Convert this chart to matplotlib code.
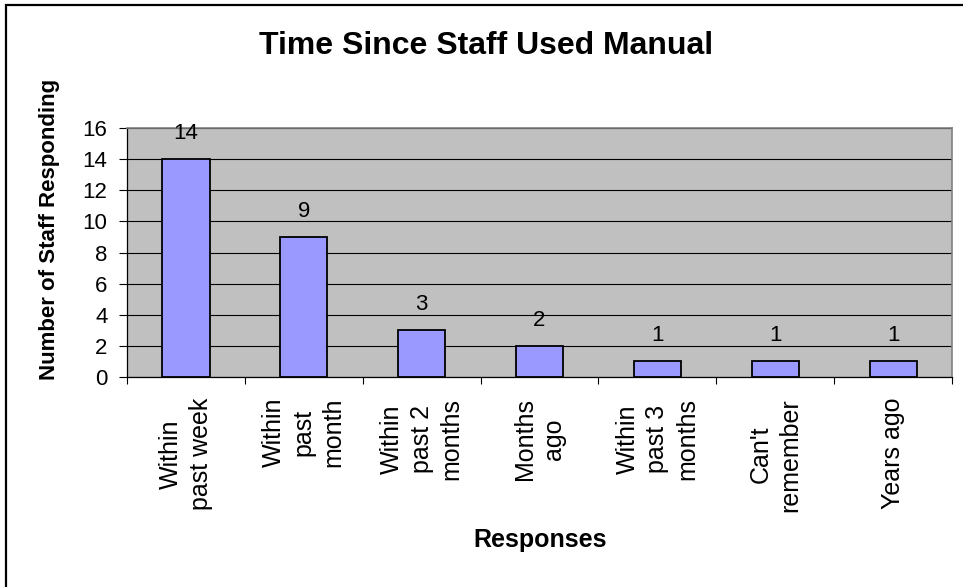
import matplotlib
matplotlib.use("Agg")
import matplotlib.pyplot as plt
import numpy as np
from matplotlib.patches import Rectangle
from matplotlib.ticker import FixedLocator

plt.rcParams["font.family"] = ["Liberation Sans", "DejaVu Sans"]

categories = [
    "Within\npast week",
    "Within\npast\nmonth",
    "Within\npast 2\nmonths",
    "Months\nago",
    "Within\npast 3\nmonths",
    "Can't\nremember",
    "Years ago",
]
counts = [14, 9, 3, 2, 1, 1, 1]
y_ticks = [0, 2, 4, 6, 8, 10, 12, 14, 16]

W, H = 963, 587
fig = plt.figure(figsize=(W / 100, H / 100), dpi=100)
ax = fig.add_axes([127 / W, 1 - 377 / H, (952 - 127) / W, (377 - 128) / H])

x = np.arange(len(categories))
bars = ax.bar(x, counts, width=0.4, color="#9999FF", edgecolor="black",
              linewidth=1.3, zorder=3)

for rect, v in zip(bars, counts):
    ax.annotate(str(v), (rect.get_x() + rect.get_width() / 2, rect.get_height()),
                xytext=(0, 11), textcoords="offset points",
                ha="center", va="bottom", fontsize=16, zorder=4)

ax.set_facecolor("#C0C0C0")
ax.set_xlim(-0.5, len(categories) - 0.5)
ax.set_ylim(0, 16)
ax.set_yticks(y_ticks)
ax.yaxis.grid(True, color="black", linewidth=0.8, zorder=1)
ax.set_axisbelow(True)

# category labels at centres, tick marks between categories
ax.set_xticks(x)
ax.set_xticklabels(categories, rotation=90, ha="center", va="top",
                   fontsize=18, linespacing=1.3)
ax.tick_params(axis="x", which="major", length=0, pad=15)
ax.xaxis.set_minor_locator(FixedLocator(np.arange(len(categories) + 1) - 0.5))
ax.tick_params(axis="x", which="minor", length=5, width=0.8, direction="out")
ax.tick_params(axis="y", length=6, width=0.8, pad=8, labelsize=16)

for side in ("top", "right"):
    ax.spines[side].set_color("#808080")
    ax.spines[side].set_linewidth(1.2)
for side in ("left", "bottom"):
    ax.spines[side].set_color("black")
    ax.spines[side].set_linewidth(0.9)

fig.text(486 / W, 1 - 46 / H, "Time Since Staff Used Manual",
         ha="center", va="center", fontsize=23, fontweight="bold")
fig.text(50 / W, 1 - 229 / H, "Number of Staff Responding",
         rotation=90, ha="center", va="center", fontsize=16, fontweight="bold")
fig.text(540 / W, 1 - 540 / H, "Responses",
         ha="center", va="center", fontsize=18, fontweight="bold")

# chart-area border (right and bottom edges fall outside the image)
fig.patches.append(Rectangle((6 / W, -0.05), 1.1, 1 - 5 / H + 0.05,
                             transform=fig.transFigure, fill=False,
                             edgecolor="black", linewidth=1.6))

fig.savefig("out.png", dpi=100)
